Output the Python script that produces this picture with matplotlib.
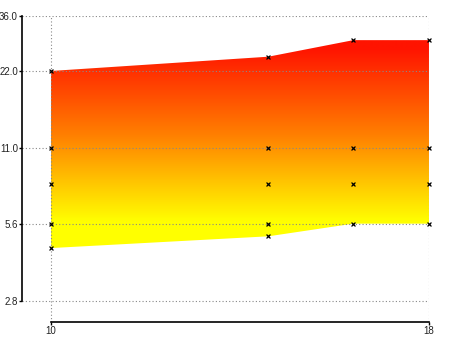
import numpy as np
import matplotlib.pyplot as plt
from matplotlib.colors import LinearSegmentedColormap

# band outline
band_x = [10, 14.6, 16.4, 18]
band_upper = [22.0, 25.0, 29.0, 29.0]
band_lower = [4.5, 5.0, 5.6, 5.6]

# sample points (x markers)
pts_x = [10, 10, 10, 10, 10,
         14.6, 14.6, 14.6, 14.6, 14.6,
         16.4, 16.4, 16.4, 16.4,
         18, 18, 18, 18]
pts_y = [22.0, 11.0, 8.0, 5.6, 4.5,
         25.0, 11.0, 8.0, 5.6, 5.0,
         29.0, 11.0, 8.0, 5.6,
         29.0, 11.0, 8.0, 5.6]

yticks = [2.8, 5.6, 11.0, 22.0, 36.0]
ytick_labels = ['2.8', '5.6', '11.0', '22.0', '36.0']
xticks = [10, 18]

plt.rcParams['font.family'] = ['Liberation Sans', 'DejaVu Sans']

fig = plt.figure(figsize=(4.5, 3.37), dpi=100)
ax = fig.add_axes([0.0489, 0.0445, 0.9044, 0.908])
ax.set_yscale('log')
ylo, yhi = 2.32, 36.0
ax.set_xlim(9.386, 18)
ax.set_ylim(ylo, yhi)

# gradient yellow (bottom) -> red (top), defined in axes fraction
def frac(v):
    return (np.log(v) - np.log(ylo)) / (np.log(yhi) - np.log(ylo))

f0, f1 = frac(5.7), frac(27.0)
cmap = LinearSegmentedColormap.from_list('yr', [(1, 1, 0), (1, 0.5, 0), (1, 20 / 255, 0)])
rows = np.linspace(0, 1, 600)
vals = np.clip((rows - f0) / (f1 - f0), 0, 1)[:, None]
im = ax.imshow(vals, cmap=cmap, vmin=0, vmax=1, origin='lower', aspect='auto',
               extent=(0, 1, 0, 1), transform=ax.transAxes, zorder=1,
               interpolation='bilinear')
poly = ax.fill_between(band_x, band_lower, band_upper, facecolor='none',
                       edgecolor='none')
im.set_clip_path(poly.get_paths()[0], transform=ax.transData)
ax.set_xlim(9.386, 18)
ax.set_ylim(ylo, yhi)

ax.scatter(pts_x, pts_y, marker='x', s=8, c='black', linewidths=0.9, zorder=4,
           clip_on=False)

# grid
for y in yticks:
    ax.axhline(y, color='#888888', lw=0.8, ls=(0, (1, 2)), zorder=2)
for x in xticks:
    ax.axvline(x, color='#888888', lw=0.8, ls=(0, (1, 2)), zorder=2)

ax.spines['top'].set_visible(False)
ax.spines['right'].set_visible(False)
ax.spines['left'].set_bounds(2.8, 36.0)
ax.spines['bottom'].set_bounds(10, 18)
ax.spines['left'].set_linewidth(1.2)
ax.spines['bottom'].set_linewidth(1.2)

ax.set_yticks(yticks)
ax.set_yticklabels(ytick_labels)
ax.yaxis.set_minor_locator(plt.NullLocator())
ax.set_xticks(xticks)
ax.set_xticklabels([str(t) for t in xticks])
ax.tick_params(axis='both', length=2, width=1, labelsize=7, colors='black',
               labelcolor='#222222', pad=1)

fig.savefig('out.png', dpi=100)
